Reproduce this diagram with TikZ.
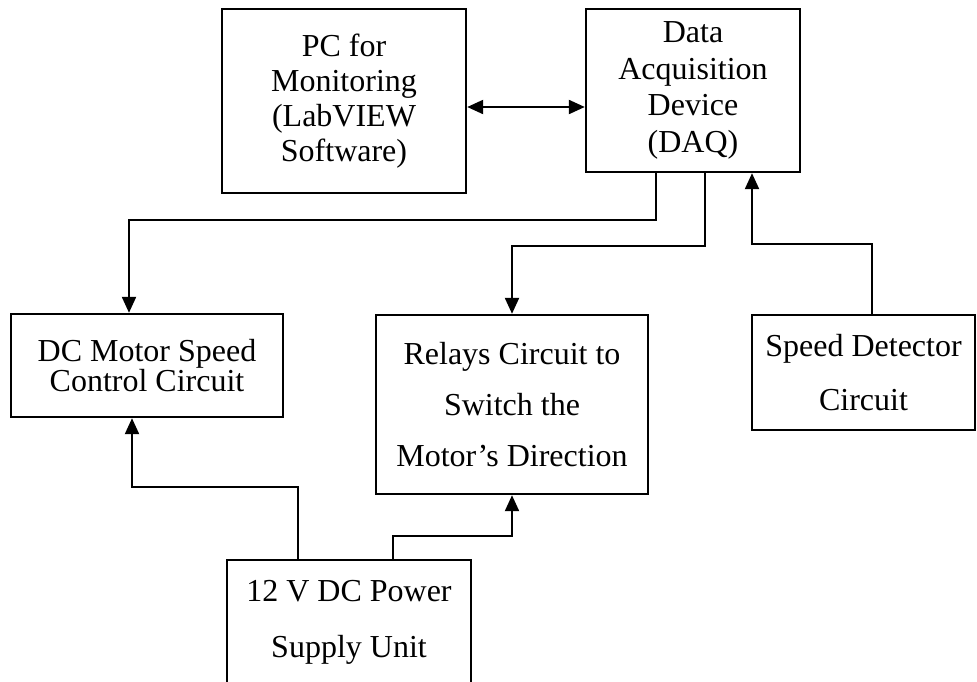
\documentclass[tikz,border=0pt]{standalone}
\usepackage{fontspec}
\setmainfont{Liberation Serif}
\usetikzlibrary{arrows.meta}

\tikzset{
	box/.style={draw, line width=1.2pt, inner sep=0pt, align=center},
	link/.style={line width=1.1pt, -{Triangle[length=8pt,width=7pt]}}
}

\begin{document}
\begin{tikzpicture}[x=0.5pt, y=-0.5pt]
		\useasboundingbox (0,0) rectangle (977,681);
		% top row
		\node[box, minimum width=122pt, minimum height=92pt,
			font=\fontsize{16pt}{17.5pt}\selectfont] (pc) at (344,101)
			{PC for\\Monitoring\\(LabVIEW\\Software)};
		\node[box, minimum width=107pt, minimum height=81.5pt,
			font=\fontsize{16pt}{18.3pt}\selectfont] (daq) at (693,90.5)
			{Data\\Acquisition\\Device\\(DAQ)};
		% middle row
		\node[box, minimum width=136pt, minimum height=51.5pt,
			font=\fontsize{16pt}{15pt}\selectfont] (dcm) at (147,365.5)
			{DC Motor Speed\\Control Circuit};
		\node[box, minimum width=136pt, minimum height=89.5pt,
			font=\fontsize{16pt}{25.5pt}\selectfont] (relay) at (512,404.5)
			{Relays Circuit to\\Switch the\\Motor’s Direction};
		\node[box, minimum width=111.5pt, minimum height=57.5pt,
			font=\fontsize{16pt}{27pt}\selectfont] (speed) at (863.5,372.5)
			{Speed Detector\\Circuit};
		% power supply, cut at the bottom
		\node[box, minimum width=122pt, minimum height=62pt,
			font=\fontsize{16pt}{28pt}\selectfont] (psu) at (349,622)
			{12 V DC Power\\Supply Unit};
		% PC <-> DAQ
		\coordinate (mid) at (526,107);
		\draw[link, {Triangle[length=8pt,width=7pt]}-{Triangle[length=8pt,width=7pt]}]
			(pc.east |- mid) -- (daq.west |- mid);
		% DAQ outputs
		\draw[link] ([shift={(-37,0)}]daq.south) -- ++(0,47) -| ([shift={(-18,0)}]dcm.north);
		\draw[link] ([shift={(12,0)}]daq.south) -- ++(0,73) -| (relay.north);
		% speed feedback
		\draw[link] ([shift={(8.5,0)}]speed.north) -- ++(0,-70) -| ([shift={(59,0)}]daq.south);
		% supply lines
		\draw[link] ([shift={(-51,0)}]psu.north) -- ++(0,-72) -| ([shift={(-15,0)}]dcm.south);
		\draw[link] ([shift={(44,0)}]psu.north) -- ++(0,-23) -| (relay.south);
	\end{tikzpicture}
\end{document}
